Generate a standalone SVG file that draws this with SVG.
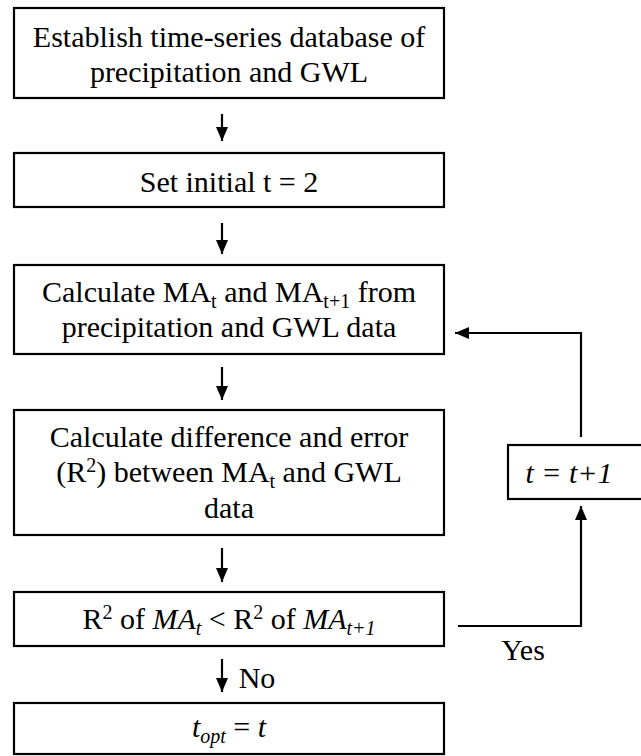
<svg xmlns="http://www.w3.org/2000/svg" width="641" height="756" viewBox="0 0 641 756">
<defs>
<marker id="ah" markerWidth="14" markerHeight="12" refX="14" refY="6" orient="auto" markerUnits="userSpaceOnUse" viewBox="0 0 14 12">
<path d="M0,0 L14,6 L0,12 Z" fill="#000"/>
</marker>
<style>
.box{fill:#fff;stroke:#000;stroke-width:2.2}
.c{fill:none;stroke:#000;stroke-width:2.2}
</style>
</defs>
<rect width="641" height="756" fill="#fff"/>
<g id="connectors">
<line class="c" x1="222" y1="114" x2="222" y2="141" marker-end="url(#ah)"/>
<line class="c" x1="222" y1="223" x2="222" y2="254" marker-end="url(#ah)"/>
<line class="c" x1="222" y1="367" x2="222" y2="400" marker-end="url(#ah)"/>
<line class="c" x1="222" y1="548" x2="222" y2="582" marker-end="url(#ah)"/>
<line class="c" x1="222" y1="659" x2="222" y2="692" marker-end="url(#ah)"/>
<polyline class="c" points="458,626 581,626 581,506" marker-end="url(#ah)"/>
<polyline class="c" points="581,437 581,333 455,333" marker-end="url(#ah)"/>
<text x="523" y="660" font-family="Liberation Serif" font-size="30" text-anchor="middle">Yes</text>
<text x="257" y="688" font-family="Liberation Serif" font-size="30" text-anchor="middle">No</text>
</g>
<g id="n1">
<rect class="box" x="14" y="8" width="430" height="90"/>
<text x="229" y="47" font-family="Liberation Serif" font-size="30" text-anchor="middle">Establish time-series database of</text>
<text x="229" y="82" font-family="Liberation Serif" font-size="30" text-anchor="middle">precipitation and GWL</text>
</g>
<g id="n2">
<rect class="box" x="14" y="153" width="430" height="54"/>
<text x="229" y="192" font-family="Liberation Serif" font-size="30" text-anchor="middle">Set initial t = 2</text>
</g>
<g id="n3">
<rect class="box" x="14" y="265" width="430" height="89"/>
<text x="229" y="302" font-family="Liberation Serif" font-size="30" text-anchor="middle">Calculate MA<tspan font-size="20" dy="6">t</tspan><tspan dy="-6"> and MA</tspan><tspan font-size="20" dy="6">t+1</tspan><tspan dy="-6"> from</tspan></text>
<text x="229" y="337" font-family="Liberation Serif" font-size="30" text-anchor="middle">precipitation and GWL data</text>
</g>
<g id="n4">
<rect class="box" x="14" y="410" width="430" height="125"/>
<text x="229" y="447" font-family="Liberation Serif" font-size="30" text-anchor="middle">Calculate difference and error</text>
<text x="229" y="482" font-family="Liberation Serif" font-size="30" text-anchor="middle">(R<tspan font-size="20" dy="-10">2</tspan><tspan dy="10">) between MA</tspan><tspan font-size="20" dy="6">t</tspan><tspan dy="-6"> and GWL</tspan></text>
<text x="229" y="518" font-family="Liberation Serif" font-size="30" text-anchor="middle">data</text>
</g>
<g id="n5">
<rect class="box" x="14" y="592" width="430" height="54"/>
<text x="229" y="629" font-family="Liberation Serif" font-size="30" text-anchor="middle">R<tspan font-size="20" dy="-10">2</tspan><tspan dy="10"> of </tspan><tspan font-style="italic">MA</tspan><tspan font-size="20" font-style="italic" dy="6">t</tspan><tspan dy="-6"> &lt; R</tspan><tspan font-size="20" dy="-10">2</tspan><tspan dy="10"> of </tspan><tspan font-style="italic">MA</tspan><tspan font-size="20" font-style="italic" dy="6">t+1</tspan></text>
</g>
<g id="n6">
<rect class="box" x="14" y="703" width="430" height="51"/>
<text x="229" y="737" font-family="Liberation Serif" font-size="30" text-anchor="middle"><tspan font-style="italic">t</tspan><tspan font-size="20" font-style="italic" dy="6">opt</tspan><tspan dy="-6"> = </tspan><tspan font-style="italic">t</tspan></text>
</g>
<g id="n7">
<rect class="box" x="508" y="445" width="140" height="54"/>
<text x="569" y="483" font-family="Liberation Serif" font-size="30" font-style="italic" text-anchor="middle">t = t+1</text>
</g>
</svg>
